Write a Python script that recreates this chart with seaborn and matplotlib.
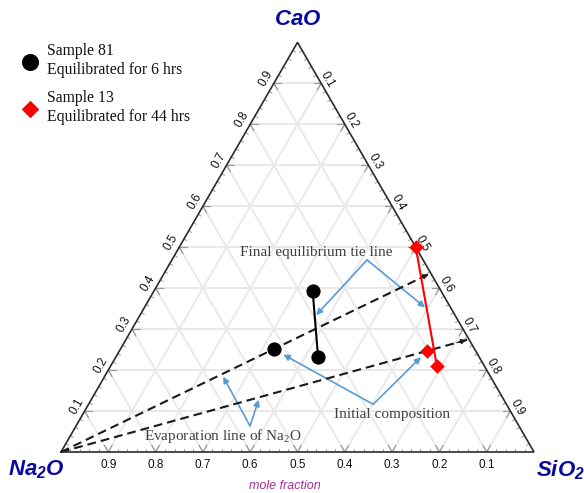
import numpy as np
import pandas as pd
import matplotlib
matplotlib.use("Agg")
import matplotlib.pyplot as plt
import seaborn as sns

# ---- compositions (mole fractions) ----
# Sample 81: initial composition, then the two ends of the final tie line
s81_label = "Sample 81\nEquilibrated for 6 hrs"
s81_na2o = [0.425, 0.271, 0.341]
s81_cao = [0.251, 0.394, 0.231]
s81_sio2 = [0.324, 0.335, 0.428]
s81_stage = ["initial", "final", "final"]

# Sample 13: initial composition, then the two ends of the final tie line
s13_label = "Sample 13\nEquilibrated for 44 hrs"
s13_na2o = [0.102, 0.000, 0.100]
s13_cao = [0.247, 0.500, 0.211]
s13_sio2 = [0.651, 0.500, 0.689]
s13_stage = ["initial", "final", "final"]

grid_values = [0.1, 0.2, 0.3, 0.4, 0.5, 0.6, 0.7, 0.8, 0.9]
tick_labels = ["0.1", "0.2", "0.3", "0.4", "0.5", "0.6", "0.7", "0.8", "0.9"]

H = np.sqrt(3) / 2


def to_xy(cao, sio2):
    cao = np.asarray(cao, float)
    sio2 = np.asarray(sio2, float)
    return sio2 + cao / 2, cao * H


def frame(na2o, cao, sio2, stage):
    x, y = to_xy(cao, sio2)
    return pd.DataFrame({"Na2O": na2o, "CaO": cao, "SiO2": sio2,
                         "stage": stage, "x": x, "y": y})


df81 = frame(s81_na2o, s81_cao, s81_sio2, s81_stage)
df13 = frame(s13_na2o, s13_cao, s13_sio2, s13_stage)

sns.set_style("white")
plt.rcParams["font.family"] = ["Liberation Serif", "DejaVu Serif"]
plt.rcParams["mathtext.fontset"] = "custom"
plt.rcParams["mathtext.rm"] = "Liberation Serif"
plt.rcParams["mathtext.sf"] = "Liberation Sans:italic:bold"

fig = plt.figure(figsize=(5.84, 4.93), dpi=100)
ax = fig.add_axes([61 / 584, 41 / 493, 473 / 584, 473 * H / 493])
ax.set_xlim(0, 1)
ax.set_ylim(0, H)
ax.set_axis_off()

grid_col = "#e9e9e9"
tick_col = "#9a9a9a"

# ---- grid lines ----
for v in grid_values:
    # constant CaO
    xa, ya = to_xy(v, 0)
    xb, yb = to_xy(v, 1 - v)
    ax.plot([xa, xb], [ya, yb], color=grid_col, lw=1.4, zorder=1)
    # constant SiO2
    xa, ya = to_xy(0, v)
    xb, yb = to_xy(1 - v, v)
    ax.plot([xa, xb], [ya, yb], color=grid_col, lw=1.4, zorder=1)
    # constant Na2O
    xa, ya = to_xy(0, 1 - v)
    xb, yb = to_xy(1 - v, 0)
    ax.plot([xa, xb], [ya, yb], color=grid_col, lw=1.4, zorder=1)

# ---- major ticks: short stubs of the grid lines at each edge ----
L = 0.016
for v in grid_values:
    # bottom edge
    x0, y0 = to_xy(0, v)
    ax.plot([x0, x0 + L / 2], [y0, y0 + L * H], color=tick_col, lw=0.9, zorder=2)
    ax.plot([x0, x0 - L / 2], [y0, y0 + L * H], color=tick_col, lw=0.9, zorder=2)
    # left edge
    x0, y0 = to_xy(v, 0)
    ax.plot([x0, x0 + L], [y0, y0], color=tick_col, lw=0.9, zorder=2)
    ax.plot([x0, x0 + L / 2], [y0, y0 - L * H], color=tick_col, lw=0.9, zorder=2)
    # right edge
    x0, y0 = to_xy(1 - v, v)
    ax.plot([x0, x0 - L], [y0, y0], color=tick_col, lw=0.9, zorder=2)
    ax.plot([x0, x0 - L / 2], [y0, y0 - L * H], color=tick_col, lw=0.9, zorder=2)

# ---- minor ticks ----
minor = [m / 50 for m in range(1, 50) if m % 5]
l = 0.007
for v in minor:
    x0, y0 = to_xy(0, v)
    ax.plot([x0, x0], [y0, y0 + l], color=tick_col, lw=0.7, zorder=2)
    x0, y0 = to_xy(v, 0)
    ax.plot([x0, x0 + l * H], [y0, y0 - l / 2], color=tick_col, lw=0.7, zorder=2)
    x0, y0 = to_xy(1 - v, v)
    ax.plot([x0, x0 - l * H], [y0, y0 - l / 2], color=tick_col, lw=0.7, zorder=2)

# ---- triangle outline ----
ax.plot([0, 1, 0.5, 0], [0, 0, H, 0], color="#2b2b2b", lw=1.2, zorder=3,
        clip_on=False, solid_joinstyle="miter")

# ---- tick labels ----
tick_font = dict(family=["Liberation Sans", "DejaVu Sans"], fontsize=8.5, color="#111111")
dl = 0.019
dr = 0.016
for v, t in zip(grid_values, tick_labels):
    # bottom: Na2O fraction
    x0, y0 = to_xy(0, 1 - v)
    ax.text(x0, y0 - 0.027, t, ha="center", va="center", **tick_font)
    # left: CaO fraction
    x0, y0 = to_xy(v, 0)
    ax.text(x0 - dl * H, y0 + dl / 2, t, ha="center", va="center", rotation=60,
            rotation_mode="anchor", **tick_font)
    # right: SiO2 fraction
    x0, y0 = to_xy(1 - v, v)
    ax.text(x0 + dr * H, y0 + dr / 2, t, ha="center", va="center", rotation=-60,
            rotation_mode="anchor", **tick_font)

# ---- evaporation lines of Na2O (from the Na2O corner through each initial composition) ----
na_x, na_y = to_xy(0, 0)
evap_ends = []
for df in (df81, df13):
    ini = df[df.stage == "initial"].iloc[0]
    c_end = ini.CaO / (ini.CaO + ini.SiO2)
    ex, ey = to_xy(c_end, 1 - c_end)
    evap_ends.append((ex, ey))
    ax.plot([na_x, ex], [na_y, ey], color="#1a1a1a", lw=1.5, ls=(0, (4.2, 2.4)),
            zorder=4)
    ax.annotate("", xy=(ex, ey),
                xytext=(ex - 0.03 * (ex - na_x), ey - 0.03 * (ey - na_y)),
                arrowprops=dict(arrowstyle="-|>", color="#1a1a1a", lw=0.8,
                                mutation_scale=8, shrinkA=0, shrinkB=2),
                zorder=5)

# ---- final tie lines ----
f81 = df81[df81.stage == "final"]
f13 = df13[df13.stage == "final"]
ax.plot(f81.x, f81.y, color="black", lw=1.5, zorder=5)
ax.plot(f13.x, f13.y, color="#ff0000", lw=1.5, zorder=5)

# ---- sample points ----
sns.scatterplot(data=df81, x="x", y="y", marker="o", s=105, color="black",
                edgecolor="black", linewidth=0, label=s81_label, ax=ax,
                zorder=6, clip_on=False)
sns.scatterplot(data=df13, x="x", y="y", marker="D", s=55, color="#ff0000",
                edgecolor="#ff0000", linewidth=0, label=s13_label, ax=ax,
                zorder=6, clip_on=False)
ax.set_xlabel("")
ax.set_ylabel("")

# ---- annotations ----
blue = "#5b9bd5"
txt_col = "#404040"
arrow_kw = dict(arrowstyle="-|>", color=blue, lw=1.2, mutation_scale=9, shrinkA=0)


def along(df, t):
    a, b = df.iloc[0], df.iloc[1]
    return a.x + t * (b.x - a.x), a.y + t * (b.y - a.y)


ax.text(0.5402, 0.4228, "Final equilibrium tie line", ha="center", va="center",
        fontsize=11, color=txt_col)
o = (0.647, 0.406)
ax.annotate("", xy=along(f81, 0.39), xytext=o, arrowprops=dict(shrinkB=1.5, **arrow_kw))
ax.annotate("", xy=along(f13, 0.52), xytext=o, arrowprops=dict(shrinkB=1.5, **arrow_kw))

ax.text(0.7008, 0.0803, "Initial composition", ha="center", va="center",
        fontsize=11, color=txt_col)
o = (0.660, 0.1008)
i81 = df81[df81.stage == "initial"].iloc[0]
i13 = df13[df13.stage == "initial"].iloc[0]
ax.annotate("", xy=(i81.x, i81.y), xytext=o, arrowprops=dict(shrinkB=8, **arrow_kw))
ax.annotate("", xy=(i13.x, i13.y), xytext=o, arrowprops=dict(shrinkB=6.5, **arrow_kw))

ax.text(0.3425, 0.0338, r"Evaporation line of Na$_2$O", ha="center", va="center",
        fontsize=11, color=txt_col)
o = (0.3996, 0.055)
for (ex, ey), t in zip(evap_ends, (0.34, 0.42)):
    tx = t / (ex - na_x)
    ax.annotate("", xy=(na_x + tx * (ex - na_x), na_y + tx * (ey - na_y)), xytext=o,
                arrowprops=dict(shrinkB=2, **arrow_kw))

# ---- corner labels ----
corner_kw = dict(fontsize=16, color="#0a0a9e", ha="center", va="center")
ax.text(0.500, 0.9115, r"$\mathsf{CaO}$", **corner_kw)
ax.text(-0.0520, -0.0380, r"$\mathsf{Na_2O}$", **corner_kw)
ax.text(1.0570, -0.0380, r"$\mathsf{SiO_2}$", **corner_kw)

ax.text(0.4736, -0.0720, "mole fraction", ha="center", va="center", fontsize=9,
        style="italic", family=["Liberation Sans", "DejaVu Sans"], color="#a3319c")

# ---- legend ----
leg = ax.legend(loc="upper left", bbox_to_anchor=(22.6 / 584, 1 - 43 / 493),
                bbox_transform=fig.transFigure, frameon=False, fontsize=11.3,
                handlelength=1.0, handletextpad=0.55, borderpad=0, borderaxespad=0,
                labelspacing=0.75, markerscale=1.2)
for t in leg.get_texts():
    t.set_color("#111111")
    t.set_linespacing(1.25)

fig.savefig("out.png", dpi=100)
